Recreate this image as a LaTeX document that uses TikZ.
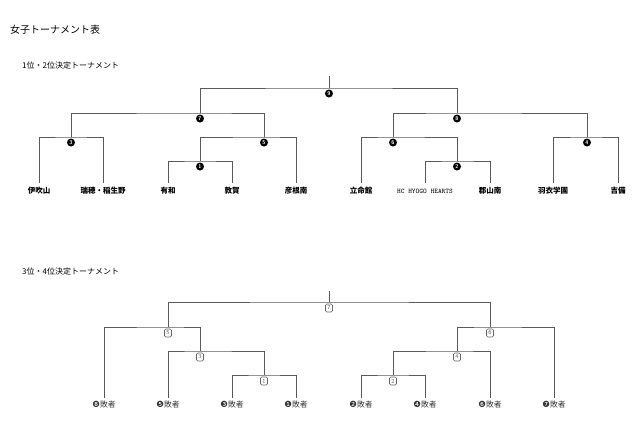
\documentclass[tikz,border=0pt]{standalone}
\usepackage{fontspec}
\newfontfamily\jp{Noto Sans CJK JP}
\newfontfamily\dv{DejaVu Sans}
\begin{document}
\begin{tikzpicture}[x=1pt,y=-1pt,
  team/.style={font=\jp\bfseries\fontsize{7.5}{8}\selectfont, inner sep=0, minimum height=16pt},
  loser/.style={font=\jp\fontsize{7.8}{8}\selectfont, inner sep=0, minimum height=13pt, text=black!80},
  win/.style={circle, fill=black, text=white, font=\sffamily\bfseries\fontsize{5.5}{6}\selectfont, inner sep=0, minimum size=8pt},
  sq/.style={rectangle, rounded corners=1.2pt, draw=black!60, line width=0.6pt, fill=white, text=black!60, font=\sffamily\fontsize{6}{6}\selectfont, inner sep=0, minimum width=7pt, minimum height=8pt},
  bracket/.style={draw=black!65, line width=0.85pt},
  ttl/.style={font=\jp\fontsize{10}{12}\selectfont, anchor=west, inner sep=0},
  sub/.style={font=\jp\fontsize{8}{10}\selectfont, anchor=west, inner sep=0}]
\useasboundingbox (0,0) rectangle (640,437);
\fill[white] (0,0) rectangle (640,437);

\node[ttl] (title) at (10,30) {女子トーナメント表};
\node[sub] (sub1) at (22,65) {1位・2位決定トーナメント};
\node[sub] (sub2) at (22,271) {3位・4位決定トーナメント};

% ---------- top bracket ----------
\node[team] (t1) at (39,191) {伊吹山};
\node[team] (t2) at (103,191) {瑞穂・稲生野};
\node[team] (t3) at (168,191) {有和};
\node[team] (t4) at (232,191) {敦賀};
\node[team] (t5) at (296,191) {彦根南};
\node[team] (t6) at (361,191) {立命館};
\node[team, font=\ttfamily\fontsize{7}{8}\selectfont] (t7) at (425,191) {HC HYOGO HEARTS};
\node[team] (t8) at (490,191) {郡山南};
\node[team] (t9) at (553,191) {羽衣学園};
\node[team] (t10) at (618,191) {吉備};

\coordinate (m1) at (200,161);
\coordinate (m2) at (457,161);
\coordinate (m3) at (71,137);
\coordinate (m4) at (587,137);
\coordinate (m5) at (264,137);
\coordinate (m6) at (393,137);
\coordinate (m7) at (200,113);
\coordinate (m8) at (457,113);
\coordinate (m9) at (329,88);
\coordinate (top1) at (329,76);

\draw[bracket] (t3.north) |- (m1) -| (t4.north);
\draw[bracket] (t7.north) |- (m2) -| (t8.north);
\draw[bracket] (t1.north) |- (m3) -| (t2.north);
\draw[bracket] (t9.north) |- (m4) -| (t10.north);
\draw[bracket] (m1) |- (m5) -| (t5.north);
\draw[bracket] (t6.north) |- (m6) -| (m2);
\draw[bracket] (m3) |- (m7) -| (m5);
\draw[bracket] (m6) |- (m8) -| (m4);
\draw[bracket] (m7) |- (m9) -| (m8);
\draw[bracket] (top1) -- (m9);

\node[win] (w1) at (200,166.5) {1};
\node[win] (w2) at (457,166.5) {2};
\node[win] (w3) at (71,142.5) {3};
\node[win] (w4) at (587,142.5) {4};
\node[win] (w5) at (264,142.5) {5};
\node[win] (w6) at (393,142.5) {6};
\node[win] (w7) at (200,118.5) {7};
\node[win] (w8) at (457,118.5) {8};
\node[win] (w9) at (329,93.5) {9};

% ---------- bottom bracket ----------
\node[loser] (l1) at (104,405) {{\dv\fontsize{8.5}{9}\selectfont ❽}敗者};
\node[loser] (l2) at (168,405) {{\dv\fontsize{8.5}{9}\selectfont ❺}敗者};
\node[loser] (l3) at (232,405) {{\dv\fontsize{8.5}{9}\selectfont ❸}敗者};
\node[loser] (l4) at (296,405) {{\dv\fontsize{8.5}{9}\selectfont ❶}敗者};
\node[loser] (l5) at (361,405) {{\dv\fontsize{8.5}{9}\selectfont ❷}敗者};
\node[loser] (l6) at (425,405) {{\dv\fontsize{8.5}{9}\selectfont ❹}敗者};
\node[loser] (l7) at (490,405) {{\dv\fontsize{8.5}{9}\selectfont ❻}敗者};
\node[loser] (l8) at (554,405) {{\dv\fontsize{8.5}{9}\selectfont ❼}敗者};

\coordinate (s1) at (264,375);
\coordinate (s2) at (393,375);
\coordinate (s3) at (200,351);
\coordinate (s4) at (457,351);
\coordinate (s5) at (168,327);
\coordinate (s6) at (490,327);
\coordinate (s7) at (329,302);
\coordinate (top2) at (329,291);

\draw[bracket] (l3.north) |- (s1) -| (l4.north);
\draw[bracket] (l5.north) |- (s2) -| (l6.north);
\draw[bracket] (l2.north) |- (s3) -| (s1);
\draw[bracket] (s2) |- (s4) -| (l7.north);
\draw[bracket] (l1.north) |- (s5) -| (s3);
\draw[bracket] (s4) |- (s6) -| (l8.north);
\draw[bracket] (s5) |- (s7) -| (s6);
\draw[bracket] (top2) -- (s7);

\node[sq] (q1) at (264,381) {1};
\node[sq] (q2) at (393,381) {2};
\node[sq] (q3) at (200,357) {3};
\node[sq] (q4) at (457,357) {4};
\node[sq] (q5) at (168,333) {5};
\node[sq] (q6) at (490,333) {6};
\node[sq] (q7) at (329,308) {7};
\end{tikzpicture}
\end{document}
